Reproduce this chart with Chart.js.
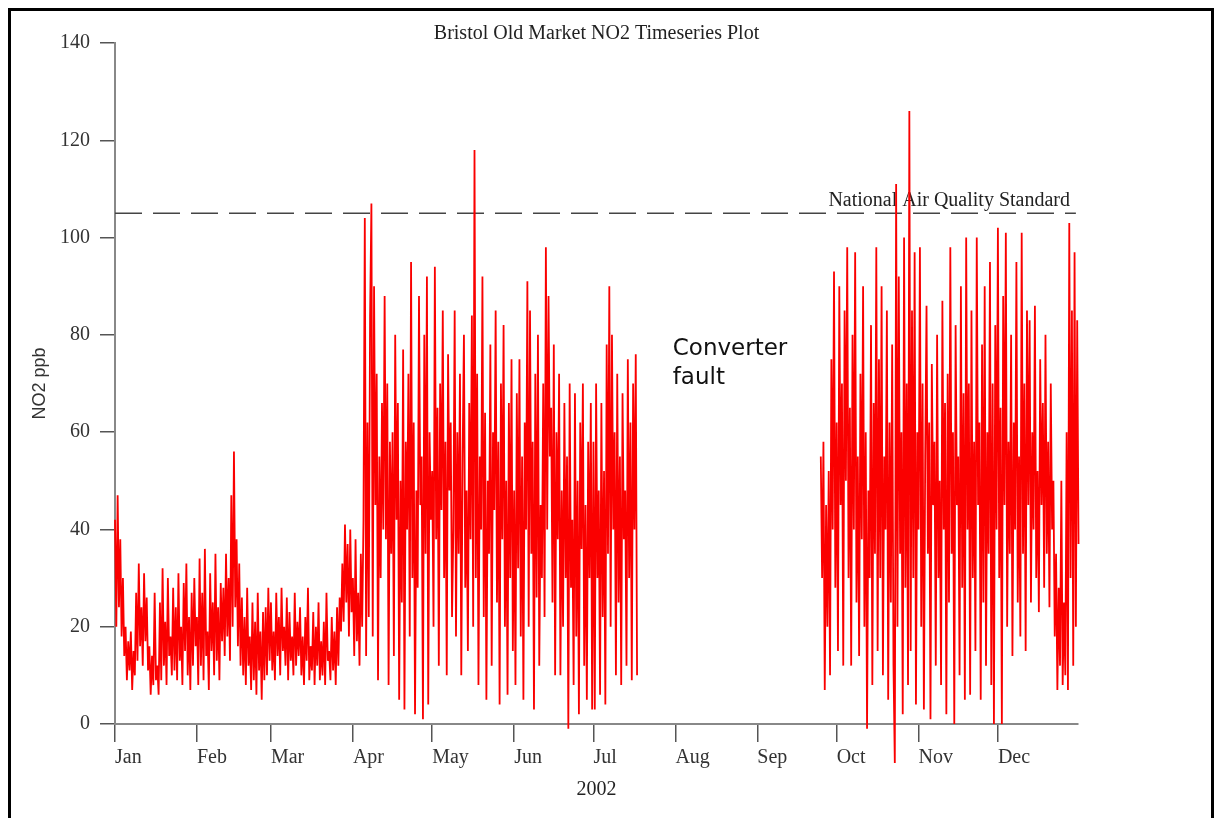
<!DOCTYPE html>
<html>
<head>
  <meta charset="utf-8">
  <title>Bristol Old Market NO2 Timeseries Plot</title>
  <script src="https://cdn.jsdelivr.net/npm/chart.js@4/dist/chart.umd.min.js"></script>
  <style>
    html, body { margin: 0; padding: 0; background: #ffffff; }
    .frame {
      position: absolute; left: 8px; top: 8px;
      width: 1206px; height: 900px;
      box-sizing: border-box;
      border: 3px solid #000;
    }
    canvas { position: absolute; left: 0; top: 0; }
  </style>
</head>
<body>
<div class="frame"></div>
<canvas id="no2Chart" width="1220" height="818"></canvas>
<script>
// half-daily NO2 readings (ppb), one array per month
var STEP = 0.5;            // days between readings
var STANDARD = 105;        // National Air Quality Standard (ppb)
var MONTHS = ["Jan","Feb","Mar","Apr","May","Jun","Jul","Aug","Sep","Oct","Nov","Dec"];
var MONTH_START = [0,31,59,90,120,151,181,212,243,273,304,334];

var jan = [42,20,47,24,38,18,30,14, 20,9,17,11,19,7,15,10,
  27,13,33,16,24,12,31,17,26,11, 16,6,14,8,27,9,12,6,
  25,9,32,12,21,8,30,14,18,10,28,11,
  24,9,31,13,20,8,29,15,33,10,22,7,27,12,30,16];
var feb = [22,8,34,12,27,9,36,14,19,7,31,15,25,10,35,13,24,9,29,17,
  28,14,35,18,30,13,47,20,56,24,38,16,33,12,
  26,10,22,8,28,12,18,7,25,9,21,6,27,11,19,5,23,9,
  24,10,28,13];
var mar = [25,11,19,9,27,14,22,10,28,15,20,12,26,9,23,13,18,10,27,12,21,14,
  24,10,18,8,22,13,28,9,16,11,23,8,20,12,25,9,17,10,21,8,27,13,15,9,22,11,19,8,24,12,
  26,19,33,21,41,25,37,18,40,23];
var apr = [30,14,38,17,27,12,35,20,42, 104, 14,62,22,84, 107, 18,
  90,45,72,9,55,30,66,40, 88,38,70,8,58,35,60,14,
  80,42,66,5,50,25,77,3,58,40,72,18,
  95,30,62,2,48,28,88,45,55,1,80,35,92,4,60,42];
var may = [52,20,94,38,65,12,70,44,85,30,58,10,76,48,62,22,
  40,85,18,60,35,72,10,55,80,28,48,15,66,38,84,20,
  118,
  30,72,8,55,40,92,22,64,5,50,35,78,12,60,44,
  85,25,58,4,70,38,82,20,50,6,66,30,75,15];
var jun = [48,8,68,32,75,18,55,5,62,40, 91,20,
  85,35,58,3,72,26,80,12,45,30,
  70,22,98,40,88,55,65,25,78,10,60,38,
  72,10,48,20,66,30,55,-1,70,28,42,8,
  68,18,50,2,62,36,70,12,45,5,58,30,66,3];
var jul = [58,3,70,30,48,6,66,22,52,4,
  78,35,90,20,80,40,60,10,
  72,25,55,8,68,38,48,12,75,30,62,9,70,40,76,10];
// converter fault until late September
var SEP_RESTART = 267;
var sep = [55,30,58,7,45,20,52,10, 75,40,93,28];
var oct = [62,15,90,45,70,12,85,50,
  98,30,65,12,80,40,97,25,55,14,72,38,
  90,20,60,-1,48,30,82,8,66,35,98,15,
  75,30,90,10,55,40,85,5,62,25,78,12,-8,111,
  20,92,35,60,2,100,28,70,8,126,
  15,85,30,97,4,60];
var nov = [40,98,20,70,3,55,
  86,35,62,1,74,45,58,12,80,30,50,8,87,40,66,2,72,25,
  98,35,60,0,82,45,55,10,90,28,68,5,
  100,40,70,6,85,30,58,15,100,45,62,5,78,25,90,12,
  60,35,95,8,70,0,82,40];
var dec = [102,30,65,0,88,45,101,20,58,35,
  80,14,62,40,95,25,55,18,101,35,70,15,85,45,
  83,25,60,40,86,30,52,23,75,45,66,28,80,35,58,24,70,40,50,18,
  35,7,28,12,50,8,25,10,
  60,7,103,30,85,12,97,20,83,37];

function toPoints(startDay, vals) {
    return vals.map(function(v, i) { return {x: startDay + i * STEP, y: v}; });
}

var firstHalf = [].concat(
    toPoints(MONTH_START[0], jan), toPoints(MONTH_START[1], feb),
    toPoints(MONTH_START[2], mar), toPoints(MONTH_START[3], apr),
    toPoints(MONTH_START[4], may), toPoints(MONTH_START[5], jun),
    toPoints(MONTH_START[6], jul));
var secondHalf = [].concat(
    toPoints(SEP_RESTART, sep), toPoints(MONTH_START[9], oct),
    toPoints(MONTH_START[10], nov), toPoints(MONTH_START[11], dec));

var X_MIN = 0, X_MAX = 364.3;
var serif = "'Liberation Serif', 'Times New Roman', serif";

var textPlugin = {
    id: 'texts',
    beforeDatasetsDraw: function(chart) {
        var c = chart.ctx, a = chart.chartArea;
        var ys = chart.scales.y;
        c.save();
        c.fillStyle = '#222';
        c.font = '20px ' + serif;
        c.textAlign = 'right';
        c.textBaseline = 'alphabetic';
        c.fillText('National Air Quality Standard', a.right - 8, ys.getPixelForValue(STANDARD) - 7);
        c.restore();
    },
    afterDraw: function(chart) {
        var c = chart.ctx, a = chart.chartArea;
        var xs = chart.scales.x, ys = chart.scales.y;
        var cx = (a.left + a.right) / 2;
        c.save();
        c.fillStyle = '#222';
        c.textBaseline = 'alphabetic';
        c.textAlign = 'center';
        c.font = '20px ' + serif;
        c.fillText('Bristol Old Market NO2 Timeseries Plot', cx, 39);
        c.fillText('2002', cx, 795);

        c.save();
        c.translate(40, (a.top + a.bottom) / 2);
        c.rotate(-Math.PI / 2);
        c.font = "18px 'Liberation Sans', sans-serif";
        c.textBaseline = 'middle';
        c.fillStyle = '#333';
        c.fillText('NO2 ppb', 0, 0);
        c.restore();

        c.fillStyle = '#111';
        c.textAlign = 'left';
        c.font = "23px 'DejaVu Sans', sans-serif";
        var gx = xs.getPixelForValue(211);
        var gy = ys.getPixelForValue(75.8);
        c.fillText('Converter', gx, gy);
        c.fillText('fault', gx, gy + 29);
        c.restore();
    }
};

var ctx = document.getElementById('no2Chart').getContext('2d');
var chart = new Chart(ctx, {
    type: 'line',
    data: {
        datasets: [
            {
                label: 'Standard',
                data: [{x: X_MIN, y: STANDARD}, {x: 363.5, y: STANDARD}],
                borderColor: '#444',
                borderWidth: 1.5,
                borderDash: [27, 11],
                pointRadius: 0,
                order: 2
            },
            {
                label: 'NO2 Jan-Jul',
                data: firstHalf,
                borderColor: 'rgb(250,0,0)',
                borderWidth: 1.8,
                pointRadius: 0,
                tension: 0,
                clip: false,
                order: 1
            },
            {
                label: 'NO2 Sep-Dec',
                data: secondHalf,
                borderColor: 'rgb(250,0,0)',
                borderWidth: 1.8,
                pointRadius: 0,
                tension: 0,
                clip: false,
                order: 1
            }
        ]
    },
    options: {
        responsive: false,
        animation: false,
        devicePixelRatio: 1,
        parsing: false,
        normalized: true,
        layout: { padding: { left: 0, top: 43, right: 142, bottom: 0 } },
        plugins: {
            legend: { display: false },
            tooltip: { enabled: false },
            title: { display: false }
        },
        scales: {
            x: {
                type: 'linear',
                min: X_MIN,
                max: X_MAX,
                afterFit: function(s) { s.height = 94; },
                afterBuildTicks: function(s) {
                    s.ticks = MONTH_START.map(function(v) { return {value: v}; });
                },
                ticks: {
                    autoSkip: false,
                    maxRotation: 0,
                    align: 'start',
                    padding: 4,
                    color: '#333',
                    font: { family: serif, size: 20 },
                    callback: function(value, index) { return MONTHS[index]; }
                },
                grid: { drawOnChartArea: false, drawTicks: true, tickLength: 18, color: '#555', lineWidth: 1.5 },
                border: { display: true, color: '#888', width: 2 }
            },
            y: {
                min: 0,
                max: 140,
                afterFit: function(s) { s.width = 115; },
                ticks: {
                    stepSize: 20,
                    padding: 10,
                    color: '#333',
                    font: { family: serif, size: 20 }
                },
                grid: { drawOnChartArea: false, drawTicks: true, tickLength: 15, color: '#555', lineWidth: 1.5 },
                border: { display: true, color: '#888', width: 2 }
            }
        }
    },
    plugins: [textPlugin]
});
</script>
</body>
</html>
